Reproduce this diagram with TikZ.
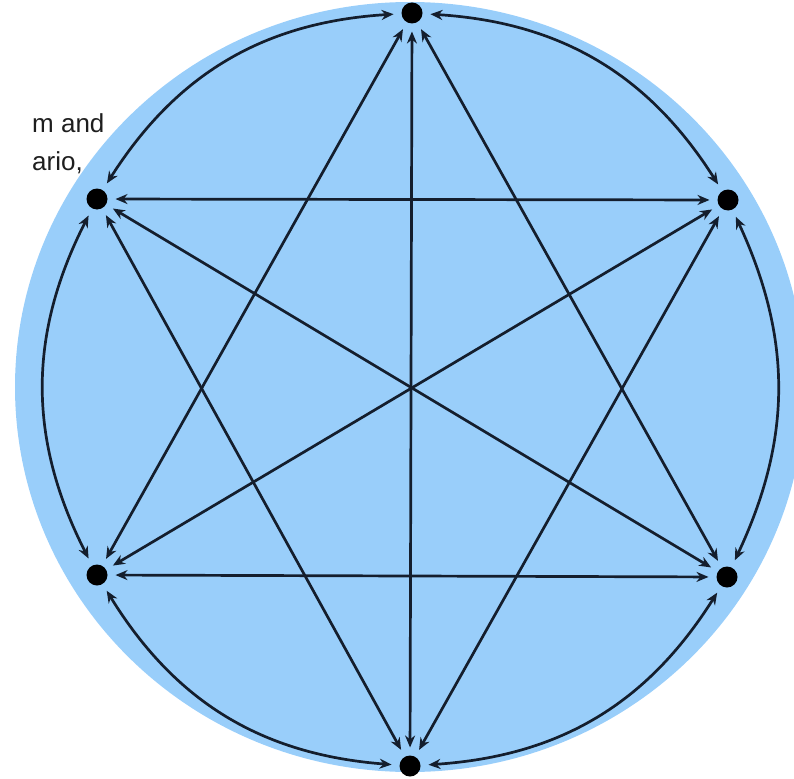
\documentclass[tikz,border=0pt]{standalone}
\usepackage{fontspec}
\setmainfont{Liberation Sans}
\usetikzlibrary{arrows.meta}
\definecolor{bluefill}{RGB}{153,206,250}
\definecolor{edgecol}{RGB}{20,30,45}
\definecolor{txt}{RGB}{30,30,30}
\begin{document}
\begin{tikzpicture}[x=1pt,y=-1pt,
  vert/.style={circle,fill=black,minimum size=21pt,inner sep=0pt,outer sep=8pt},
  link/.style={draw=edgecol,line width=2.7pt,{Stealth[length=12pt,width=10pt]}-{Stealth[length=12pt,width=10pt]}},
  lbl/.style={font=\fontsize{26}{32}\selectfont,text=txt,anchor=base west,inner sep=0pt}]
\useasboundingbox (0,0) rectangle (794,778);
\node[lbl] (t1) at (32,133) {m and};
\node[lbl] (t2) at (32,171) {ario,};
\fill[bluefill] (410,387) ellipse [x radius=395, y radius=385];
\node[vert] (T) at (412,13) {};
\node[vert] (UR) at (728,200) {};
\node[vert] (LR) at (727,577) {};
\node[vert] (B) at (410,766) {};
\node[vert] (LL) at (97,575) {};
\node[vert] (UL) at (97,199) {};
% outer arcs
\draw[link] (T) to[bend left=27] (UR);
\draw[link] (UR) to[bend left=25] (LR);
\draw[link] (LR) to[bend left=27] (B);
\draw[link] (B) to[bend left=27] (LL);
\draw[link] (LL) to[bend left=27] (UL);
\draw[link] (UL) to[bend left=27] (T);
% short diagonals
\draw[link] (T) -- (LR);
\draw[link] (T) -- (LL);
\draw[link] (UL) -- (UR);
\draw[link] (LL) -- (LR);
\draw[link] (UL) -- (B);
\draw[link] (UR) -- (B);
% long diagonals
\draw[link] (T) -- (B);
\draw[link] (UL) -- (LR);
\draw[link] (UR) -- (LL);
\end{tikzpicture}
\end{document}
